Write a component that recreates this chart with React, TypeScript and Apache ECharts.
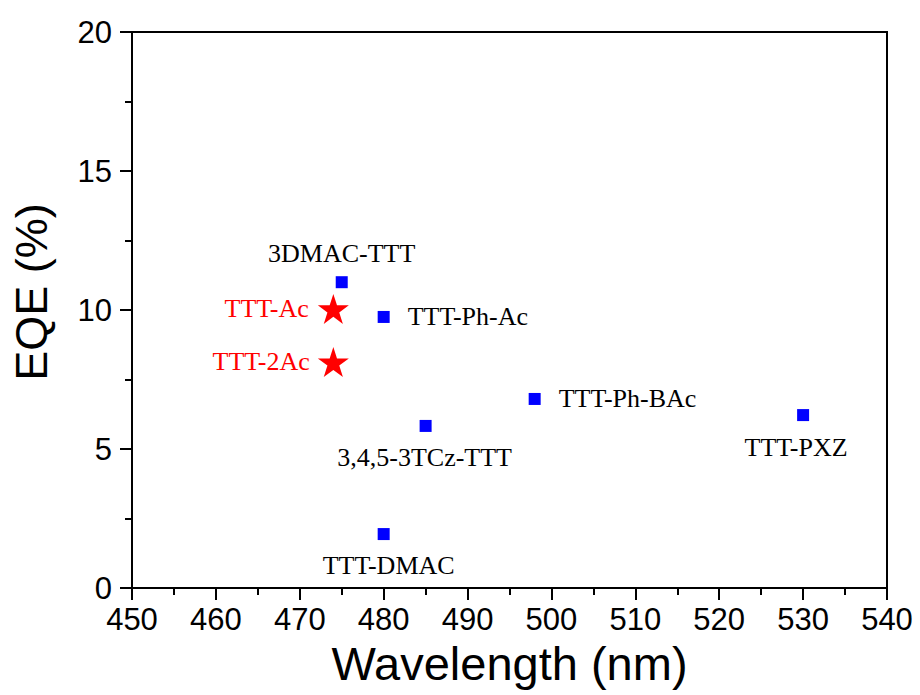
import React, { useEffect, useRef } from "react";
import * as echarts from "echarts";

const xTicks = [450, 460, 470, 480, 490, 500, 510, 520, 530, 540];
const yTicks = [0, 5, 10, 15, 20];

const refNames = ["3DMAC-TTT", "TTT-Ph-Ac", "3,4,5-3TCz-TTT", "TTT-DMAC", "TTT-Ph-BAc", "TTT-PXZ"];
const refWavelength = [475, 480, 485, 480, 498, 530];
const refEQE = [11.0, 9.75, 5.83, 1.94, 6.8, 6.22];

const starNames = ["TTT-Ac", "TTT-2Ac"];
const starWavelength = [474, 474];
const starEQE = [10.04, 8.13];

const labelPlace: any[] = [
  { position: "top", distance: 10, offset: [0, 0] },
  { position: "right", distance: 18, offset: [0, 0] },
  { position: "bottom", distance: 13, offset: [-1, 0] },
  { position: "bottom", distance: 12, offset: [5, 0] },
  { position: "right", distance: 18, offset: [0, 0] },
  { position: "bottom", distance: 13, offset: [-7, 0] },
];
const starPlace: any[] = [
  { position: "left", distance: 9, offset: [0, 0] },
  { position: "left", distance: 8, offset: [0, 0] },
];

const STAR = "path://M0,-1 L0.2245,-0.309 L0.951,-0.309 L0.363,0.118 L0.588,0.809 L0,0.382 L-0.588,0.809 L-0.363,0.118 L-0.951,-0.309 L-0.2245,-0.309 Z";

export default function App() {
  const ref = useRef<HTMLDivElement>(null);
  useEffect(() => {
    if (!ref.current) return;
    const chart = echarts.init(ref.current, null, { renderer: "svg" });
    const sans = "Liberation Sans, Arial, sans-serif";
    const serif = "Liberation Serif, Times New Roman, serif";
    const axisCommon = {
      axisLine: { show: true, lineStyle: { color: "#000", width: 2 } },
      axisTick: { show: true, inside: false, length: 12, lineStyle: { color: "#000", width: 2 } },
      minorTick: { show: true, splitNumber: 2, length: 7, lineStyle: { color: "#000", width: 2 } },
      splitLine: { show: false },
      axisLabel: { color: "#000", fontSize: 31, fontFamily: sans },
    };
    chart.setOption({
      animation: false,
      backgroundColor: "#fff",
      grid: {
        left: 132,
        right: 33,
        top: 32,
        bottom: 107,
        show: true,
        borderColor: "#000",
        borderWidth: 2,
      },
      xAxis: {
        type: "value",
        min: xTicks[0],
        max: xTicks[xTicks.length - 1],
        interval: 10,
        ...axisCommon,
        axisLabel: { ...axisCommon.axisLabel, margin: 16 },
        name: "Wavelength (nm)",
        nameLocation: "middle",
        nameGap: 50,
        nameTextStyle: { color: "#000", fontSize: 47, fontFamily: sans },
      },
      yAxis: {
        type: "value",
        min: yTicks[0],
        max: yTicks[yTicks.length - 1],
        interval: 5,
        ...axisCommon,
        axisLabel: { ...axisCommon.axisLabel, margin: 20 },
        name: "EQE (%)",
        nameLocation: "middle",
        nameGap: 78,
        nameTextStyle: { color: "#000", fontSize: 45, fontFamily: sans, padding: [0, 0, 0, 36] },
      },
      series: [
        {
          type: "scatter",
          symbol: "rect",
          symbolSize: 12,
          itemStyle: { color: "#0000ff", opacity: 1 },
          data: refNames.map((n, i) => ({
            name: n,
            value: [refWavelength[i], refEQE[i]],
            label: {
              show: true,
              formatter: n,
              color: "#000",
              fontSize: 26,
              fontFamily: serif,
              ...labelPlace[i],
            },
          })),
        },
        {
          type: "scatter",
          symbol: STAR,
          symbolSize: [31, 30],
          itemStyle: { color: "#ff0000", opacity: 1 },
          data: starNames.map((n, i) => ({
            name: n,
            value: [starWavelength[i], starEQE[i]],
            label: {
              show: true,
              formatter: n,
              color: "#ff0000",
              fontSize: 26,
              fontFamily: serif,
              ...starPlace[i],
            },
          })),
        },
      ],
    });
    return () => chart.dispose();
  }, []);
  return <div ref={ref} style={{ width: 920, height: 695, position: "absolute", left: 0, top: 0 }} />;
}
